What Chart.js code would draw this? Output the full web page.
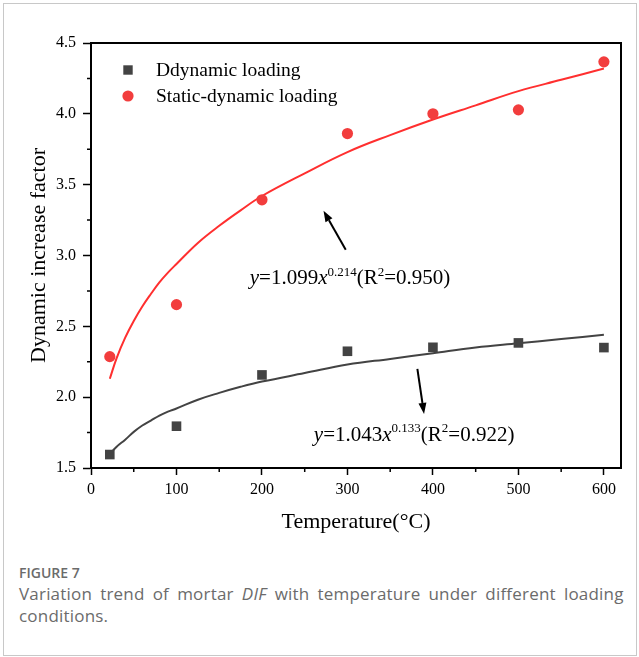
<!DOCTYPE html>
<html><head><meta charset="utf-8">
<script src="https://cdn.jsdelivr.net/npm/chart.js@4.4.1/dist/chart.umd.min.js"></script>
<style>
html,body{margin:0;padding:0;background:#fff;width:639px;height:657px;overflow:hidden}
#frame{position:absolute;left:3px;top:3px;width:634px;height:653px;border:1px solid #c8c8c8;box-sizing:border-box}
#chartWrap{position:absolute;left:0;top:0;width:639px;height:545px}
#cap{position:absolute;left:19px;top:565px;width:616px;font-family:"Open Sans",sans-serif;color:#6b6b6b}
#cap .fig{font-size:14px;font-weight:600;line-height:16px;}
#cap .txt{font-size:17px;line-height:22px;margin-top:2px;word-spacing:3.5px;letter-spacing:0.2px}
</style></head><body>
<div id="frame"></div>
<div id="chartWrap"><canvas id="c" width="639" height="545"></canvas></div>
<div id="cap"><div class="fig">FIGURE 7</div><div class="txt">Variation trend of mortar <i>DIF</i> with temperature under different loading conditions.</div></div>
<script>
// ---- data ----
const temperatures = [22, 100, 200, 300, 400, 500, 600];
const dynamicDIF = [1.595, 1.795, 2.157, 2.324, 2.352, 2.383, 2.35];
const staticDynamicDIF = [2.286, 2.653, 3.393, 3.861, 4.0, 4.028, 4.367];
const fitTemps = [22, 30, 40, 50, 60, 70, 80, 90, 100, 125, 150, 175, 200, 250, 300, 350, 400, 450, 500, 550, 600];
const dynamicFit = [1.60, 1.65, 1.70, 1.755, 1.80, 1.835, 1.87, 1.898, 1.92, 1.982, 2.03, 2.073, 2.11, 2.17, 2.23, 2.27, 2.31, 2.35, 2.38, 2.41, 2.44];
const staticDynamicFit = [2.13, 2.276, 2.42, 2.538, 2.64, 2.728, 2.81, 2.879, 2.94, 3.089, 3.21, 3.319, 3.42, 3.58, 3.73, 3.85, 3.96, 4.06, 4.16, 4.24, 4.32];
const seriesNames = ['Ddynamic loading', 'Static-dynamic loading'];
const xTickValues = [0, 100, 200, 300, 400, 500, 600];
const xMinorTicks = [50, 150, 250, 350, 450, 550];
const yTickValues = [1.5, 2.0, 2.5, 3.0, 3.5, 4.0, 4.5];
const yMinorTicks = [1.75, 2.25, 2.75, 3.25, 3.75, 4.25];
const xTitle = 'Temperature(°C)';
const yTitle = 'Dynamic increase factor';
// fit equations (text pieces), anchor (data coords) and arrow (data coords)
const staticFitText = [['y','i'],['=1.099',''],['x','i'],['0.214','s'],['(R',''],['2','s'],['=0.950)','']];
const dynamicFitText = [['y','i'],['=1.043',''],['x','i'],['0.133','s'],['(R',''],['2','s'],['=0.922)','']];
const staticLabelAt = [303, 2.845];
const dynamicLabelAt = [378, 1.74];
const staticArrow = [[298, 3.04], [272, 3.316]];
const dynamicArrow = [[381.8, 2.20], [389.6, 1.882]];

const SERIF = '"Liberation Serif","Times New Roman",serif';
const DARK = '#434343', RED = '#f23d3d', REDLINE = '#ff2f2f';

const framePlugin = {
  id: 'frame',
  afterDraw(chart) {
    const {ctx, chartArea: a, scales: {x, y}} = chart;
    ctx.save();
    ctx.strokeStyle = '#000'; ctx.lineWidth = 2;
    ctx.beginPath();
    ctx.moveTo(a.left, a.top); ctx.lineTo(a.right, a.top); ctx.lineTo(a.right, a.bottom);
    ctx.stroke();
    ctx.lineWidth = 1.5;
    ctx.beginPath();
    xMinorTicks.forEach(v => { const p = x.getPixelForValue(v); ctx.moveTo(p, a.bottom); ctx.lineTo(p, a.bottom + 4); });
    yMinorTicks.forEach(v => { const p = y.getPixelForValue(v); ctx.moveTo(a.left, p); ctx.lineTo(a.left - 4, p); });
    ctx.stroke();
    ctx.restore();
  }
};

function drawRich(ctx, pieces, cx, cy, size) {
  const sup = Math.round(size * 0.63);
  const fontFor = k => (k === 'i' ? 'italic ' : '') + (k === 's' ? sup : size) + 'px ' + SERIF;
  let w = 0;
  pieces.forEach(([t, k]) => { ctx.font = fontFor(k); w += ctx.measureText(t).width; });
  let xx = cx - w / 2;
  ctx.textBaseline = 'alphabetic'; ctx.textAlign = 'left'; ctx.fillStyle = '#000';
  const base = cy + size * 0.33;
  pieces.forEach(([t, k]) => {
    ctx.font = fontFor(k);
    ctx.fillText(t, xx, k === 's' ? base - size * 0.42 : base);
    xx += ctx.measureText(t).width;
  });
}
function drawArrow(ctx, x1, y1, x2, y2) {
  const ang = Math.atan2(y2 - y1, x2 - x1), L = 11, W = 4;
  const bx = x2 - L * Math.cos(ang), by = y2 - L * Math.sin(ang);
  ctx.strokeStyle = '#000'; ctx.fillStyle = '#000'; ctx.lineWidth = 2;
  ctx.beginPath(); ctx.moveTo(x1, y1); ctx.lineTo(bx, by); ctx.stroke();
  ctx.beginPath();
  ctx.moveTo(x2, y2);
  ctx.lineTo(bx + W * Math.sin(ang), by - W * Math.cos(ang));
  ctx.lineTo(bx - W * Math.sin(ang), by + W * Math.cos(ang));
  ctx.closePath(); ctx.fill();
}
const annotPlugin = {
  id: 'annot',
  afterDatasetsDraw(chart) {
    const {ctx, scales: {x, y}, chartArea: a} = chart;
    ctx.save();
    const P = p => [x.getPixelForValue(p[0]), y.getPixelForValue(p[1])];
    [staticArrow, dynamicArrow].forEach(ar => {
      const p1 = P(ar[0]), p2 = P(ar[1]);
      drawArrow(ctx, p1[0], p1[1], p2[0], p2[1]);
    });
    let q = P(staticLabelAt); drawRich(ctx, staticFitText, q[0], q[1], 21);
    q = P(dynamicLabelAt); drawRich(ctx, dynamicFitText, q[0], q[1], 21);
    // legend
    const lx = a.left + 37, ly1 = a.top + 27, ly2 = a.top + 53;
    ctx.fillStyle = DARK; ctx.fillRect(lx - 4.7, ly1 - 4.7, 9.4, 9.4);
    ctx.fillStyle = RED; ctx.beginPath(); ctx.arc(lx, ly2, 5.6, 0, Math.PI * 2); ctx.fill();
    ctx.fillStyle = '#000'; ctx.font = '19.5px ' + SERIF; ctx.textBaseline = 'middle'; ctx.textAlign = 'left';
    ctx.fillText(seriesNames[0], lx + 28, ly1 + 1);
    ctx.fillText(seriesNames[1], lx + 28, ly2 + 1);
    ctx.restore();
  }
};

const pts = (xs, ys) => xs.map((v, i) => ({x: v, y: ys[i]}));
new Chart(document.getElementById('c'), {
  type: 'scatter',
  data: {
    datasets: [
      {label: seriesNames[0], data: pts(temperatures, dynamicDIF), pointStyle: 'rect', pointRadius: 6.8, pointHoverRadius: 6.8,
       backgroundColor: DARK, borderColor: DARK, borderWidth: 0},
      {label: seriesNames[1], data: pts(temperatures, staticDynamicDIF), pointStyle: 'circle', pointRadius: 5.6, pointHoverRadius: 5.6,
       backgroundColor: RED, borderColor: RED, borderWidth: 0},
      {label: 'fit1', data: pts(fitTemps, dynamicFit), showLine: true, pointRadius: 0, borderColor: DARK, borderWidth: 2,
       tension: 0.4, fill: false},
      {label: 'fit2', data: pts(fitTemps, staticDynamicFit), showLine: true, pointRadius: 0, borderColor: REDLINE, borderWidth: 2,
       tension: 0.4, fill: false}
    ]
  },
  options: {
    responsive: false, animation: false, events: [],
    layout: {padding: {left: 0, top: 43, right: 18, bottom: 0}},
    plugins: {legend: {display: false}, tooltip: {enabled: false}},
    scales: {
      x: {
        type: 'linear', min: 0, max: 620,
        afterBuildTicks: s => { s.ticks = xTickValues.map(v => ({value: v})); },
        afterFit: s => { s.height = 77; },
        grid: {drawOnChartArea: false, drawTicks: true, tickLength: 7, tickWidth: 1.5, tickColor: '#000'},
        border: {display: true, color: '#000', width: 2},
        ticks: {color: '#000', font: {family: SERIF, size: 16}, padding: 5, maxRotation: 0, callback: v => String(v)},
        title: {display: true, text: xTitle, color: '#000', font: {family: SERIF, size: 22}, padding: {top: 0, bottom: 10}}
      },
      y: {
        type: 'linear', min: 1.5, max: 4.5,
        afterBuildTicks: s => { s.ticks = yTickValues.map(v => ({value: v})); },
        afterFit: s => { s.width = 91; },
        grid: {drawOnChartArea: false, drawTicks: true, tickLength: 8, tickWidth: 1.5, tickColor: '#000'},
        border: {display: true, color: '#000', width: 2},
        ticks: {color: '#000', font: {family: SERIF, size: 16}, padding: 7, callback: v => v.toFixed(1)},
        title: {display: true, text: yTitle, color: '#000', font: {family: SERIF, size: 22}, padding: {top: 26, bottom: 0}}
      }
    }
  },
  plugins: [framePlugin, annotPlugin]
});
</script>
</body></html>
